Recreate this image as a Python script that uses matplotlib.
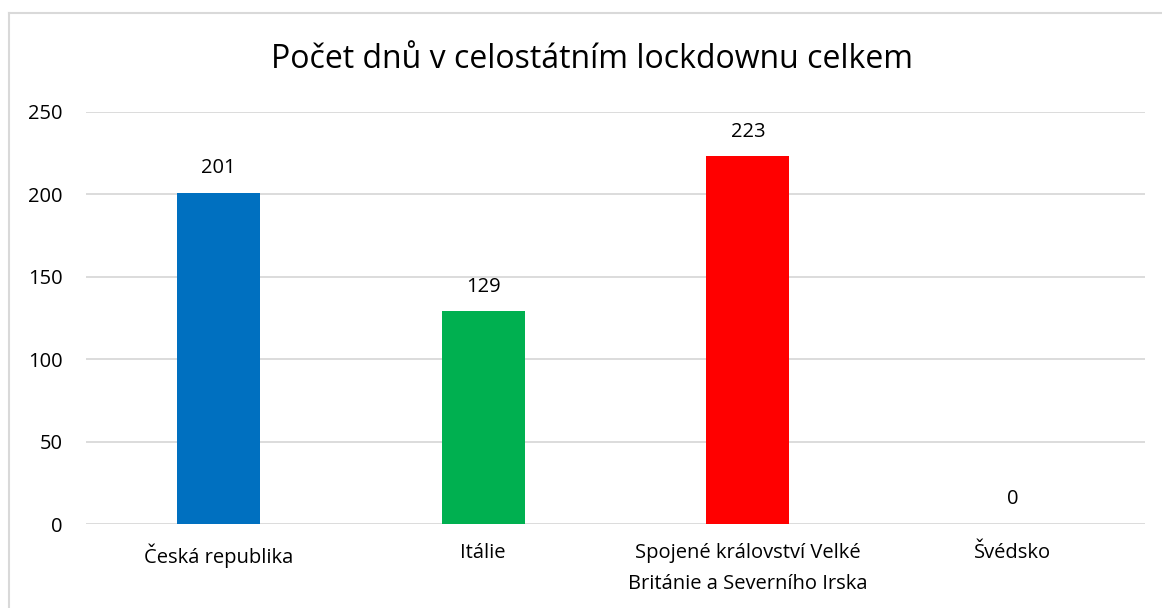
import matplotlib.pyplot as plt
from matplotlib.lines import Line2D

# data
countries = ["Česká republika", "Itálie",
             "Spojené království Velké\nBritánie a Severního Irska", "Švédsko"]
days = [201, 129, 223, 0]
bar_colors = ["#0070C0", "#00B050", "#FF0000", "#FFC000"]
y_ticks = [0, 50, 100, 150, 200, 250]

plt.rcParams['font.family'] = ['Open Sans', 'DejaVu Sans']

fig = plt.figure(figsize=(11.62, 6.08), dpi=100)
ax = fig.add_axes([86 / 1162, 1 - 524 / 608, (1145 - 86) / 1162, (524 - 112) / 608])

x = range(len(countries))
bars = ax.bar(x, days, width=0.314, color=bar_colors, zorder=3)
for xi, v in zip(x, days):
    ax.text(xi, v + 9, str(v), ha="center", va="bottom", fontsize=14.5, color="#000000")

ax.set_xlim(-0.5, len(countries) - 0.5)
ax.set_ylim(0, 250)
ax.set_yticks(y_ticks)
ax.set_xticks(list(x))
ax.set_xticklabels(countries, fontsize=14.5, linespacing=1.7)
ax.tick_params(axis="y", labelsize=14.5, length=0, pad=17)
ax.tick_params(axis="x", length=0, pad=14)
ax.grid(axis="y", color="#d9d9d9", linewidth=1.3, zorder=0)
for s in ax.spines.values():
    s.set_visible(False)

fig.text(592 / 1162, 1 - 60 / 608, "Počet dnů v celostátním lockdownu celkem",
         ha="center", va="center", fontsize=23)

# chart border (only top and left visible)
fig.add_artist(Line2D([9 / 1162, 1], [1 - 13 / 608, 1 - 13 / 608],
                      transform=fig.transFigure, color="#d9d9d9", linewidth=1.5))
fig.add_artist(Line2D([9 / 1162, 9 / 1162], [0, 1 - 13 / 608],
                      transform=fig.transFigure, color="#d9d9d9", linewidth=1.5))

fig.savefig("out.png", dpi=100)
